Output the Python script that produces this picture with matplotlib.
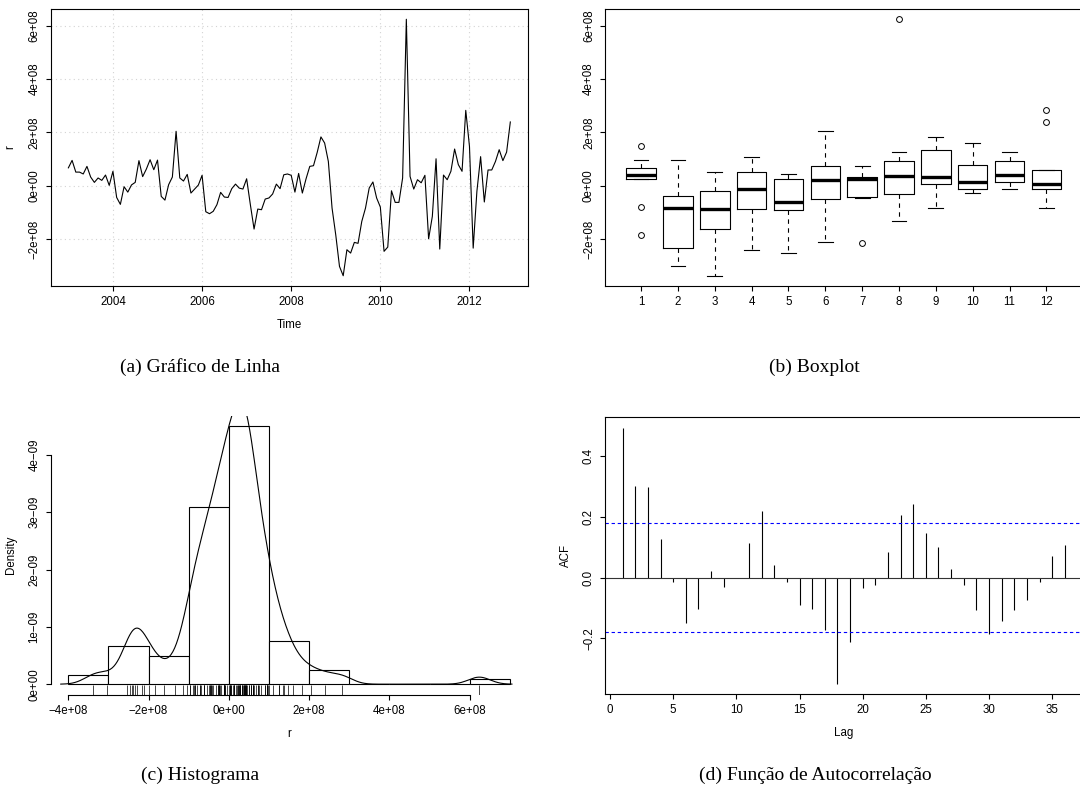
import numpy as np
import matplotlib
matplotlib.use("Agg")
import matplotlib.pyplot as plt
from matplotlib.ticker import FuncFormatter
from matplotlib.transforms import blended_transform_factory

plt.rcParams['font.family'] = ['Liberation Sans', 'DejaVu Sans']
plt.rcParams['font.size'] = 8.3

# monthly series, values in millions (Jan..Dec)
r_2003 = [67, 95, 51, 51, 44, 72.5, 32.5, 12.5, 29, 20, 40, 1.25]
r_2004 = [54, -44, -70, -3.75, -24, 3, 12.5, 94, 34, 62.5, 97.5, 60]
r_2005 = [96, -40, -54, 4, 32.5, 204, 29, 17.5, 42.5, -27.5, -12.5, 2.5]
r_2006 = [39, -97.5, -105, -96, -71, -25, -42.5, -44, -11, 6, -9, -12.5]
r_2007 = [26, -71, -162.5, -87.5, -90, -50, -46, -31, 6, -11, 41, 44]
r_2008 = [39, -24, 46, -27.5, 26, 72.5, 75, 125, 183, 160, 91, -84]
r_2009 = [-185, -302.5, -337.5, -240, -252.5, -212.5, -216, -134, -84, -8.75, 14, -46]
r_2010 = [-80, -246, -230, -19, -62.5, -62.5, 29, 624, 35, -12.5, 22.5, 11]
r_2011 = [39, -199, -115, 101, -237.5, 40, 22.5, 54, 137.5, 79, 54, 282.5]
r_2012 = [147.5, -234, -21, 109, -61, 59, 59, 91, 135, 94, 126, 239]
start_year = 2003

# autocorrelations, lags 1..36
acf_vals = [0.493, 0.302, 0.296, 0.126, -0.013, -0.150, -0.103, 0.020, -0.032,
            -0.003, 0.113, 0.219, 0.040, -0.013, -0.089, -0.104, -0.172, -0.350,
            -0.212, -0.033, -0.026, 0.083, 0.205, 0.242, 0.148, 0.102, 0.028,
            -0.023, -0.108, -0.187, -0.143, -0.108, -0.075, -0.015, 0.071, 0.106]

captions = ["(a) Gráfico de Linha", "(b) Boxplot", "(c) Histograma",
            "(d) Função de Autocorrelação"]

r = np.array(r_2003 + r_2004 + r_2005 + r_2006 + r_2007 + r_2008 + r_2009
             + r_2010 + r_2011 + r_2012) * 1e6
n = len(r)
t = start_year + np.arange(n) / 12
month = np.arange(n) % 12 + 1


def r_lim(lo, hi):
    d = 0.04 * (hi - lo)
    return lo - d, hi + d


def sci(v, pos=None):
    return "{:.0e}".format(v).replace("-", "\u2212")


def fivenum(x):
    x = np.sort(x)
    m = len(x)
    n4 = np.floor((m + 3) / 2) / 2
    d = np.array([1, n4, (m + 1) / 2, m + 1 - n4, m]) - 1
    return 0.5 * (x[np.floor(d).astype(int)] + x[np.ceil(d).astype(int)])


def box_stats(x):
    f = fivenum(x)
    iqr = f[3] - f[1]
    inside = x[(x >= f[1] - 1.5 * iqr) & (x <= f[3] + 1.5 * iqr)]
    out = x[(x < f[1] - 1.5 * iqr) | (x > f[3] + 1.5 * iqr)]
    return dict(med=f[2], q1=f[1], q3=f[3], whislo=inside.min(),
                whishi=inside.max(), fliers=out)


def style(ax):
    ax.tick_params(direction='out', length=3.6, width=0.8, pad=3.6)
    ax.tick_params(axis='y', labelrotation=90)
    for lab in ax.get_yticklabels():
        lab.set_va('center')
    for s in ax.spines.values():
        s.set_linewidth(0.8)


W, H = 1080, 794
fig = plt.figure(figsize=(W / 100, H / 100), dpi=100)


def add_ax(left, top, right, bottom):
    return fig.add_axes([left / W, 1 - bottom / H, (right - left) / W,
                         (bottom - top) / H])


ylim_r = r_lim(r.min(), r.max())

# (a) line chart
ax = add_ax(50.7, 9, 528, 286)
ax.plot(t, r, color='black', lw=0.8)
ax.set_xlim(r_lim(t.min(), t.max()))
ax.set_ylim(ylim_r)
ax.set_xticks(np.arange(2004, 2013, 2))
ax.set_yticks(np.arange(-2e8, 6.1e8, 2e8))
ax.yaxis.set_major_formatter(FuncFormatter(sci))
ax.grid(True, color='lightgray', linestyle=(0, (1, 3)), linewidth=0.8)
ax.set_xlabel('Time', labelpad=8)
ax.set_ylabel('r', labelpad=9)
style(ax)

# (b) boxplot by month
ax = add_ax(605, 9, 1082.5, 286)
stats = [box_stats(r[month == m]) for m in range(1, 13)]
ax.bxp(stats, positions=range(1, 13), widths=0.8, capwidths=0.4,
       manage_ticks=False,
       boxprops=dict(lw=0.8),
       medianprops=dict(color='black', lw=2.4, solid_capstyle='butt'),
       whiskerprops=dict(lw=0.8, linestyle=(0, (4, 4))),
       capprops=dict(lw=0.8),
       flierprops=dict(marker='o', mfc='none', mec='black', ms=4.2, mew=0.7))
ax.set_xlim(r_lim(0.5, 12.5))
ax.set_ylim(ylim_r)
ax.set_xticks(range(1, 13))
ax.set_yticks(np.arange(-2e8, 6.1e8, 2e8))
ax.yaxis.set_major_formatter(FuncFormatter(sci))
style(ax)

# (c) histogram with density and rug
ax = add_ax(50.6, 416, 527.5, 694.5)
breaks = np.arange(-4e8, 7.01e8, 1e8)
heights, _, _ = ax.hist(r, bins=breaks, density=True, facecolor='white',
                        edgecolor='black', lw=0.8)
sd = r.std(ddof=1)
q75, q25 = np.percentile(r, [75, 25])
bw = 0.9 * min(sd, (q75 - q25) / 1.34) * n ** -0.2
grid = np.linspace(r.min() - 3 * bw, r.max() + 3 * bw, 512)
dens = np.exp(-0.5 * ((grid[:, None] - r[None, :]) / bw) ** 2).sum(1) / (
    n * bw * np.sqrt(2 * np.pi))
ax.plot(grid, dens, color='black', lw=0.8)
trans = blended_transform_factory(ax.transData, ax.transAxes)
ax.vlines(r, 0, 0.033, transform=trans, color='black', lw=0.5)
ax.set_xlim(r_lim(breaks[0], breaks[-1]))
ax.set_ylim(r_lim(0, heights.max()))
ax.set_xticks(np.arange(-4e8, 6.1e8, 2e8))
ax.set_yticks(np.arange(0, 4.1e-9, 1e-9))
ax.xaxis.set_major_formatter(FuncFormatter(sci))
ax.yaxis.set_major_formatter(FuncFormatter(sci))
ax.spines['top'].set_visible(False)
ax.spines['right'].set_visible(False)
ax.spines['left'].set_bounds(0, 4e-9)
ax.spines['bottom'].set_bounds(-4e8, 6e8)
ax.set_xlabel('r', labelpad=8)
ax.set_ylabel('Density', labelpad=8)
style(ax)

# (d) autocorrelation function
ax = add_ax(605, 417.3, 1082.5, 694.3)
lags = np.arange(1, len(acf_vals) + 1)
ci = 1.96 / np.sqrt(n)
ax.vlines(lags, 0, acf_vals, color='black', lw=0.8)
ax.axhline(0, color='#333333', lw=0.8)
ax.axhline(ci, color='blue', lw=0.8, linestyle=(0, (3, 2.5)))
ax.axhline(-ci, color='blue', lw=0.8, linestyle=(0, (3, 2.5)))
ax.set_xlim(r_lim(lags.min(), lags.max()))
ax.set_ylim(r_lim(min(min(acf_vals), -ci), max(max(acf_vals), ci)))
ax.set_xticks(np.arange(0, 36, 5))
ax.set_yticks([-0.2, 0.0, 0.2, 0.4])
ax.yaxis.set_major_formatter(
    FuncFormatter(lambda v, p: "{:.1f}".format(v).replace("-", "\u2212")))
ax.set_xlabel('Lag', labelpad=8)
ax.set_ylabel('ACF', labelpad=8)
style(ax)

# subfigure captions
cap_pos = [(200, 367), (814, 367), (200, 775), (815, 775)]
for (cx, cy), txt in zip(cap_pos, captions):
    fig.text(cx / W, 1 - cy / H, txt, ha='center', va='center',
             family=['Liberation Serif', 'DejaVu Serif'], fontsize=14)

fig.savefig('out.png', dpi=100)
